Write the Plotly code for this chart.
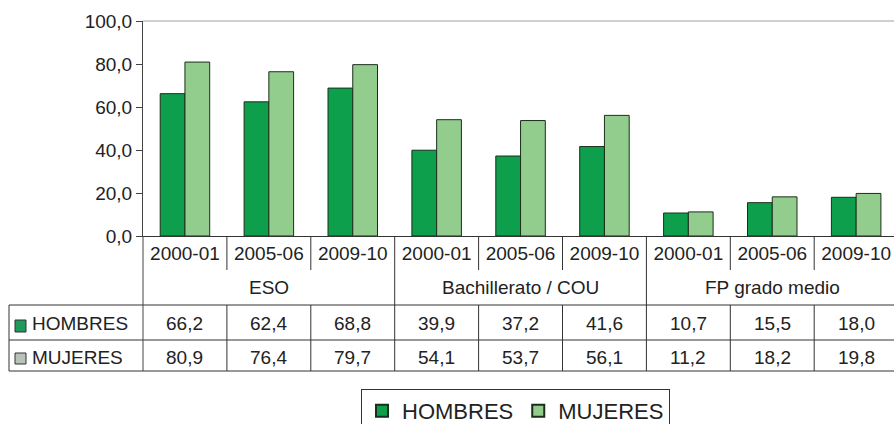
import plotly.graph_objects as go

periods = ["2000-01", "2005-06", "2009-10", "2000-01", "2005-06", "2009-10", "2000-01", "2005-06", "2009-10"]
groups = ["ESO", "Bachillerato / COU", "FP grado medio"]
hombres = [66.2, 62.4, 68.8, 39.9, 37.2, 41.6, 10.7, 15.5, 18.0]
mujeres = [80.9, 76.4, 79.7, 54.1, 53.7, 56.1, 11.2, 18.2, 19.8]
series_names = ["HOMBRES", "MUJERES"]
y_ticks = [0, 20, 40, 60, 80, 100]

W, H = 894, 424
PLOT_LEFT, PLOT_TOP, PLOT_BOTTOM = 143, 21, 236   # page pixels
L, T = PLOT_LEFT, PLOT_TOP
B = H - PLOT_BOTTOM
R = 0
PW = W - L - R
PH = H - T - B
SLOT = 83.9
FONT = "Liberation Sans, Arial, sans-serif"
DARK = "#0e9f4c"
LIGHT = "#93cd8e"
TXT = "#222222"
LINE = "#333333"

def py(p):
    return (PLOT_BOTTOM - p) / PH

def px(p):
    return (p - PLOT_LEFT) / PW

x = list(range(len(periods)))
fig = go.Figure()
fig.add_trace(go.Bar(x=x, y=hombres, name=series_names[0],
                     marker=dict(color=DARK, line=dict(color="#1b2e1b", width=1))))
fig.add_trace(go.Bar(x=x, y=mujeres, name=series_names[1],
                     marker=dict(color=LIGHT, line=dict(color="#1b2e1b", width=1))))

xmax = -0.5 + PW / SLOT

shapes = []
def line(x0, y0, x1, y1, xref="x", color=LINE, width=1):
    shapes.append(dict(type="line", xref=xref, yref="paper", x0=x0, y0=y0, x1=x1, y1=y1,
                       line=dict(color=color, width=width)))

y_row_top = py(305)
y_row_mid = py(340)
y_row_bot = py(371)
y_sep_short = py(270)

# top border
line(0, 1, 1, 1, xref="paper", color="#a0a0a0")
# horizontal table lines
for yy in (y_row_top, y_row_mid, y_row_bot):
    line(px(9), yy, 1, yy, xref="paper")
# left border of table
line(px(9), y_row_top, px(9), y_row_bot, xref="paper")
# extension of y axis
line(0, 0, 0, y_row_bot, xref="paper", color="#444444")
# vertical separators
n = len(periods)
for i in range(n - 1):
    b = i + 0.5
    if (i + 1) % 3 == 0:
        line(b, 0, b, y_row_bot)
    else:
        line(b, 0, b, y_sep_short)
        line(b, y_row_top, b, y_row_bot)

# key squares in the table
shapes.append(dict(type="rect", xref="paper", yref="paper", x0=px(15), x1=px(26),
                   y0=py(320), y1=py(332), fillcolor="#1f9a5a", line=dict(color="#333", width=1)))
shapes.append(dict(type="rect", xref="paper", yref="paper", x0=px(15), x1=px(26),
                   y0=py(353), y1=py(364), fillcolor="#b9c2b9", line=dict(color="#333", width=1)))

ann = []
def fmt(v):
    return f"{v:.1f}".replace(".", ",")

for gi, g in enumerate(groups):
    ann.append(dict(x=gi * 3 + 1, y=py(287), xref="x", yref="paper", text=g, showarrow=False,
                    font=dict(size=19, color=TXT, family=FONT), xanchor="center", yanchor="middle"))
for i in range(n):
    ann.append(dict(x=i, y=py(323), xref="x", yref="paper", text=fmt(hombres[i]), showarrow=False,
                    font=dict(size=19, color=TXT, family=FONT), xanchor="center", yanchor="middle"))
    ann.append(dict(x=i, y=py(357), xref="x", yref="paper", text=fmt(mujeres[i]), showarrow=False,
                    font=dict(size=19, color=TXT, family=FONT), xanchor="center", yanchor="middle"))
for name, yc in zip(series_names, (323, 357)):
    ann.append(dict(x=px(30), y=py(yc), xref="paper", yref="paper", text=name, showarrow=False,
                    font=dict(size=19, color=TXT, family=FONT), xanchor="left", yanchor="middle"))

fig.update_layout(
    width=W, height=H,
    margin=dict(l=L, r=R, t=T, b=B, autoexpand=False),
    paper_bgcolor="white", plot_bgcolor="white",
    separators=",.",
    barmode="group", bargap=0.41, bargroupgap=0,
    font=dict(family=FONT, color=TXT, size=19),
    shapes=shapes, annotations=ann,
    legend=dict(orientation="h", x=px(361), y=py(389), xanchor="left", yanchor="top",
                bordercolor="#333333", borderwidth=1, bgcolor="white",
                font=dict(size=22, color=TXT, family=FONT), itemsizing="constant",
                traceorder="normal"),
    showlegend=True,
)
fig.update_xaxes(range=[-0.5, xmax], tickmode="array", tickvals=x, ticktext=periods,
                 showline=True, linecolor="#333333", linewidth=1, ticks="", showgrid=False,
                 zeroline=False, tickfont=dict(size=19, color=TXT, family=FONT), fixedrange=True,
                 ticklabeloverflow="allow")
fig.update_yaxes(range=[0, 100], tickmode="array", tickvals=y_ticks, tickformat=".1f",
                 showline=True, linecolor="#444444", linewidth=1, ticks="outside", ticklen=6,
                 tickcolor="#444444", showgrid=False, zeroline=False,
                 tickfont=dict(size=19, color=TXT, family=FONT), fixedrange=True)

fig.write_html("out.html", config={"displayModeBar": False},
               post_script="document.body.style.margin='0';document.body.style.overflow='hidden';")
